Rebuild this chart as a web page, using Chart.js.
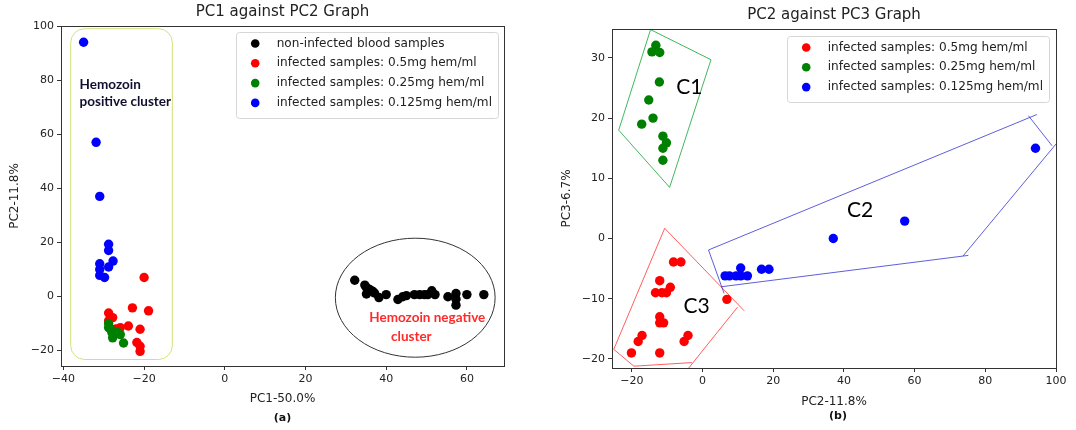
<!DOCTYPE html>
<html>
<head>
<meta charset="utf-8">
<script src="https://cdn.jsdelivr.net/npm/chart.js@4.4.1/dist/chart.umd.min.js"></script>
<style>
html, body { margin: 0; padding: 0; background: #fff; }
#wrap { position: relative; width: 1076px; height: 430px; }
.box { position: absolute; top: 0; height: 430px; }
</style>
</head>
<body>
<div id="wrap">
  <div class="box" style="left:0;width:540px"><canvas id="pc12"></canvas></div>
  <div class="box" style="left:540px;width:536px"><canvas id="pc23"></canvas></div>
</div>
<script>
// ---- data: PC1 vs PC2 ----
const black12 = [[32.2,6.0],[34.7,4.2],[35.1,3.3],[35.9,2.6],[35.1,0.9],[36.6,2.0],[37.1,1.3],[38.2,-0.4],[40.0,0.7],
                 [42.9,-1.1],[44.1,-0.1],[45.0,0.3],[47.0,0.7],[48.3,0.7],[49.5,0.7],[50.3,0.7],[51.3,2.1],[52.1,0.7],
                 [55.3,-0.1],[57.3,1.1],[57.3,-1.0],[57.3,-3.2],[60.0,0.7],[64.2,0.7]];
const red12 = [[-20.0,7.0],[-18.9,-5.3],[-22.9,-4.2],[-28.8,-6.1],[-27.8,-7.8],[-28.8,-9.0],[-23.9,-10.9],[-25.9,-11.5],
               [-27.0,-12.0],[-21.0,-12.1],[-21.8,-17.0],[-21.0,-18.4],[-21.0,-20.3]];
const green12 = [[-28.8,-10.0],[-28.8,-11.5],[-28.4,-11.9],[-28.0,-13.3],[-26.7,-13.1],[-25.9,-14.1],[-27.8,-15.3],[-25.1,-17.2]];
const blue12 = [[-35.0,94.0],[-31.9,57.0],[-31.0,37.0],[-28.8,19.3],[-28.8,17.0],[-31.0,12.1],[-27.7,13.1],[-28.8,10.9],
                [-31.0,10.0],[-31.0,7.8],[-29.8,7.0]];

// ---- data: PC2 vs PC3 ----
const red23 = [[-8.2,-3.9],[-6.1,-3.9],[-12.1,-7.0],[-13.3,-9.0],[-11.5,-9.0],[-10.2,-9.0],[-9.1,-8.1],[6.9,-10.1],
               [-12.1,-13.0],[-12.1,-14.0],[-11.0,-14.0],[-17.1,-16.1],[-18.2,-17.1],[-20.1,-19.0],[-12.1,-19.0],
               [-4.1,-16.1],[-5.2,-17.1]];
const green23 = [[-13.2,32.1],[-14.3,31.0],[-12.1,30.9],[-12.2,26.0],[-15.2,23.0],[-14.0,20.0],[-17.2,19.0],
                 [-11.2,17.0],[-10.2,15.9],[-11.2,15.0],[-11.2,13.0]];
const blue23 = [[6.4,-6.2],[7.6,-6.2],[9.5,-6.2],[10.8,-4.9],[10.8,-6.2],[12.7,-6.2],[16.7,-5.1],[18.8,-5.1],
                [37.0,0.0],[57.2,2.9],[94.2,15.0]];

// hand drawn cluster outlines (segments)
const hullC1 = [[[-14.7,34.7],[2.4,29.7],[-9.3,8.5],[-23.7,18.0],[-14.7,34.7]]];
const hullC2 = [[[1.7,-1.9],[94.6,20.6]],[[92.2,20.4],[98.9,15.4]],[[100,15.7],[73.7,-2.9]],
                [[75.2,-2.8],[5.4,-8.0]],[[1.7,-1.9],[6.1,-9.1]]];
const hullC3 = [[[-10.7,1.7],[11.8,-12.0]],[[9.9,-11.4],[-3.9,-21.5]],
                [[-3.0,-20.6],[-19.4,-21.2],[-25.1,-18.4],[-10.7,1.7]]];

// ---- axis ticks ----
const ticksX12 = [-40, -20, 0, 20, 40, 60];
const ticksY12 = [-20, 0, 20, 40, 60, 80, 100];
const ticksX23 = [-20, 0, 20, 40, 60, 80, 100];
const ticksY23 = [-20, -10, 0, 10, 20, 30];

const labels12 = ['non-infected blood samples', 'infected samples: 0.5mg hem/ml',
                  'infected samples: 0.25mg hem/ml', 'infected samples: 0.125mg hem/ml'];
const labels23 = labels12.slice(1);
const colors12 = ['#000000', '#ff0000', '#008000', '#0000ff'];
const colors23 = colors12.slice(1);

Chart.defaults.font.family = 'DejaVu Sans';
Chart.defaults.color = '#222';

const pts = arr => arr.map(p => ({ x: p[0], y: p[1] }));
const minus = v => v < 0 ? '\u2212' + Math.abs(v) : '' + v;

function dots(label, arr, color, order) {
    return { type: 'scatter', label, data: pts(arr), backgroundColor: color, borderColor: color,
             borderWidth: 0, pointRadius: 4.7, pointHoverRadius: 4.7, order };
}
function outline(segs, color) {
    return segs.map(s => ({ type: 'line', data: pts(s), borderColor: color, borderWidth: 1,
                            pointRadius: 0, fill: false, tension: 0, order: 10 }));
}

function axis(min, max, ticks, title, titlePad, horiz, size) {
    return {
        type: 'linear', min, max,
        afterBuildTicks: s => { s.ticks = ticks.map(v => ({ value: v })); },
        afterFit: s => { if (horiz) s.height = size; else s.width = size; },
        grid: { drawOnChartArea: false, drawTicks: true, tickLength: 4, color: '#333' },
        border: { display: false },
        ticks: { color: '#222', font: { size: 11 }, padding: 3, maxRotation: 0, autoSkip: false, callback: minus },
        title: { display: true, text: title, color: '#222', font: { size: 12 }, padding: titlePad }
    };
}

// box round the plot
const frame = {
    id: 'frame',
    afterDatasetsDraw(chart) {
        const a = chart.chartArea, c = chart.ctx;
        c.save();
        c.strokeStyle = '#333';
        c.lineWidth = 1;
        c.strokeRect(Math.round(a.left) + 0.5, Math.round(a.top) + 0.5,
                     Math.round(a.right - a.left), Math.round(a.bottom - a.top));
        c.restore();
    }
};

// legend in upper right of the plot
const boxLegend = {
    id: 'boxLegend',
    afterDraw(chart, args, o) {
        const a = chart.chartArea, c = chart.ctx;
        c.save();
        c.font = '12.1px "DejaVu Sans"';
        const w = Math.max(...o.labels.map(t => c.measureText(t).width)) + 47;
        const h = o.labels.length * 19.8 + 7;
        const x = a.right - o.dx - w, y = a.top + o.dy;
        c.fillStyle = 'rgba(255,255,255,0.85)';
        c.strokeStyle = '#d6d6d6';
        c.lineWidth = 1;
        c.beginPath();
        c.roundRect(Math.round(x) + 0.5, Math.round(y) + 0.5, Math.round(w), Math.round(h), 3);
        c.fill();
        c.stroke();
        c.textBaseline = 'middle';
        o.labels.forEach((t, i) => {
            const cy = y + 11.5 + i * 19.8;
            c.fillStyle = o.colors[i];
            c.beginPath();
            c.arc(x + 19.5, cy, 4.3, 0, Math.PI * 2);
            c.fill();
            c.fillStyle = '#222';
            c.fillText(t, x + 41, cy);
        });
        c.restore();
    }
};

// free text and shapes placed in data units
const notes = {
    id: 'notes',
    beforeDatasetsDraw(chart, args, o) {
        const sx = chart.scales.x, sy = chart.scales.y, c = chart.ctx;
        c.save();
        (o.shapes || []).forEach(s => {
            c.strokeStyle = s.color;
            c.lineWidth = 1;
            c.beginPath();
            if (s.kind === 'rect') {
                const x0 = sx.getPixelForValue(s.x0), x1 = sx.getPixelForValue(s.x1);
                const y0 = sy.getPixelForValue(s.y0), y1 = sy.getPixelForValue(s.y1);
                c.roundRect(x0, y0, x1 - x0, y1 - y0, s.r);
            } else {
                const cx = sx.getPixelForValue(s.cx), cy = sy.getPixelForValue(s.cy);
                const rx = Math.abs(sx.getPixelForValue(s.cx + s.rx) - cx);
                const ry = Math.abs(sy.getPixelForValue(s.cy + s.ry) - cy);
                c.ellipse(cx, cy, rx, ry, 0, 0, Math.PI * 2);
            }
            c.stroke();
        });
        c.restore();
    },
    afterDatasetsDraw(chart, args, o) {
        const sx = chart.scales.x, sy = chart.scales.y, c = chart.ctx;
        c.save();
        c.textBaseline = 'middle';
        (o.texts || []).forEach(t => {
            c.font = t.font;
            c.fillStyle = t.color;
            c.textAlign = t.align || 'left';
            c.fillText(t.text, sx.getPixelForValue(t.x), sy.getPixelForValue(t.y));
        });
        c.restore();
    }
};

// panel caption under the axis title
const caption = {
    id: 'caption',
    afterDraw(chart, args, o) {
        const a = chart.chartArea, c = chart.ctx;
        c.save();
        c.font = 'bold 11px "DejaVu Sans"';
        c.fillStyle = '#111';
        c.textAlign = 'center';
        c.textBaseline = 'middle';
        c.fillText(o.text, (a.left + a.right) / 2 + o.dx, o.y);
        c.restore();
    }
};

new Chart(document.getElementById('pc12'), {
    data: {
        datasets: [
            dots(labels12[0], black12, colors12[0], 4),
            dots(labels12[1], red12, colors12[1], 3),
            dots(labels12[2], green12, colors12[2], 2),
            dots(labels12[3], blue12, colors12[3], 1)
        ]
    },
    options: {
        responsive: true, maintainAspectRatio: false, animation: false,
        layout: { padding: { left: 0, right: 36, top: 0, bottom: 0 } },
        plugins: {
            legend: { display: false },
            tooltip: { enabled: false },
            title: { display: true, text: 'PC1 against PC2 Graph', fullSize: false, color: '#222',
                     font: { size: 15, weight: 'normal' }, padding: { top: 3, bottom: 5 } },
            boxLegend: { labels: labels12, colors: colors12, dx: 6, dy: 6 },
            notes: {
                shapes: [
                    { kind: 'rect', x0: -38.2, x1: -13.0, y0: 99.0, y1: -23.3, r: 14, color: '#d2e27a' },
                    { kind: 'ellipse', cx: 47.2, cy: -0.45, rx: 19.8, ry: 22.0, color: '#333' }
                ],
                texts: [
                    { text: 'Hemozoin', x: -36.0, y: 78.3, font: 'bold 13.5px Lato', color: '#10102e' },
                    { text: 'positive cluster', x: -36.0, y: 72.0, font: 'bold 13.5px Lato', color: '#10102e' },
                    { text: 'Hemozoin negative', x: 35.8, y: -8.0, font: 'bold 13.5px Lato', color: '#ff2a2a' },
                    { text: 'cluster', x: 41.2, y: -14.7, font: 'bold 13.5px Lato', color: '#ff2a2a' }
                ]
            },
            caption: { text: '(a)', dx: 0, y: 418 }
        },
        scales: {
            x: axis(-40.6, 69.2, ticksX12, 'PC1-50.0%', { top: 0, bottom: 24 }, true, 64),
            y: axis(-25.7, 100, ticksY12, 'PC2-11.8%', { top: 8, bottom: 0 }, false, 61)
        }
    },
    plugins: [frame, boxLegend, notes, caption]
});

new Chart(document.getElementById('pc23'), {
    data: {
        datasets: [
            dots(labels23[0], red23, colors23[0], 3),
            dots(labels23[1], green23, colors23[1], 2),
            dots(labels23[2], blue23, colors23[2], 1),
            ...outline(hullC1, 'rgba(0,160,40,0.75)'),
            ...outline(hullC2, 'rgba(40,40,210,0.75)'),
            ...outline(hullC3, 'rgba(255,40,40,0.75)')
        ]
    },
    options: {
        responsive: true, maintainAspectRatio: false, animation: false,
        layout: { padding: { left: 0, right: 20, top: 0, bottom: 0 } },
        plugins: {
            legend: { display: false },
            tooltip: { enabled: false },
            title: { display: true, text: 'PC2 against PC3 Graph', fullSize: false, color: '#222',
                     font: { size: 15, weight: 'normal' }, padding: { top: 6, bottom: 5 } },
            boxLegend: { labels: labels23, colors: colors23, dx: 7, dy: 7 },
            notes: {
                texts: [
                    { text: 'C1', x: -3.7, y: 25.1, font: '21px Lato', color: '#000', align: 'center' },
                    { text: 'C2', x: 44.6, y: 4.7, font: '21px Lato', color: '#000', align: 'center' },
                    { text: 'C3', x: -1.7, y: -11.2, font: '21px Lato', color: '#000', align: 'center' }
                ]
            },
            caption: { text: '(b)', dx: 4, y: 416 }
        },
        scales: {
            x: axis(-25.6, 100, ticksX23, 'PC2-11.8%', { top: 0, bottom: 21 }, true, 62),
            y: axis(-21.5, 34.8, ticksY23, 'PC3-6.7%', { top: 20, bottom: 0 }, false, 72)
        }
    },
    plugins: [frame, boxLegend, notes, caption]
});
</script>
</body>
</html>
